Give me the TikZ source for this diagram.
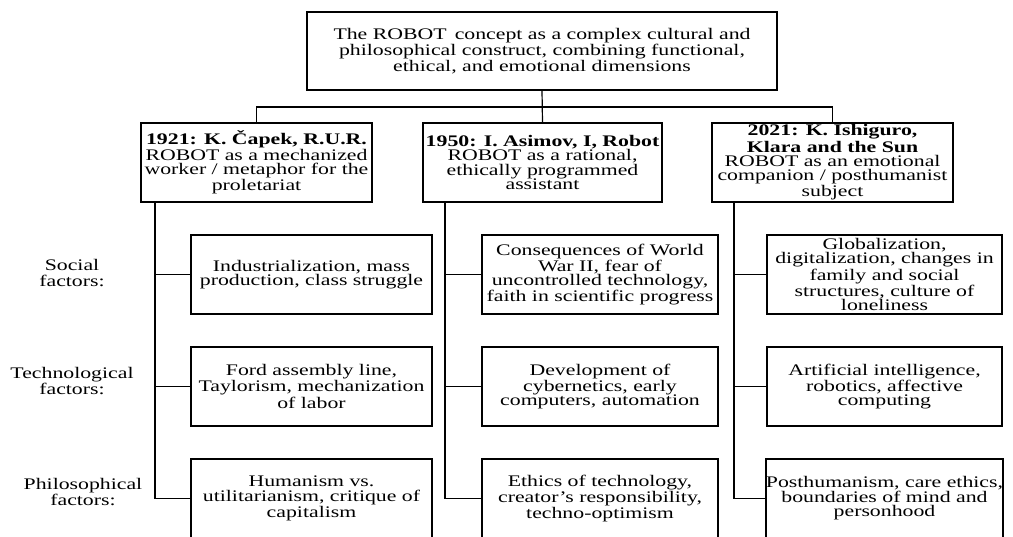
\documentclass[tikz,border=0pt]{standalone}
\usepackage{fontspec}
\setmainfont[FakeStretch=1.35]{Liberation Serif}
\begin{document}
\begin{tikzpicture}[x=0.75pt,y=-0.75pt,
  every node/.style={font=\fontsize{12.1}{10.8}\selectfont},
  box/.style={draw, line width=0.9pt, align=center, inner sep=0pt},
  topbox/.style={box, minimum width=352.5pt, minimum height=58.5pt},
  headbox/.style={box, minimum width=#1, minimum height=59.25pt},
  rowbox/.style={box, minimum width=#1, minimum height=59.25pt},
  lbl/.style={align=center, font=\fontsize{12.1}{12}\selectfont},
  conn/.style={line width=0.9pt}]
\useasboundingbox (0,0) rectangle (1013,536);
% top
\node[topbox] (top) at (542,51) {The ROBOT\, concept as a complex cultural and\\philosophical construct, combining functional,\\ethical, and emotional dimensions};
% headings
\node[headbox=173.25pt] (h1) at (256.5,162.5) {\textbf{1921: K. Čapek, R.U.R.}\\ROBOT as a mechanized\\worker / metaphor for the\\proletariat};
\node[headbox=179.25pt] (h2) at (542.5,162.5) {\textbf{1950: I. Asimov, I, Robot}\\ROBOT as a rational,\\ethically programmed\\assistant};
\node[headbox=180.75pt] (h3) at (832.5,162.5) {\textbf{2021: K. Ishiguro,}\\\textbf{Klara and the Sun}\\ROBOT as an emotional\\companion / posthumanist\\subject};
% rows col1
\node[rowbox=180.75pt] (a1) at (311.5,274.5) {Industrialization, mass\\production, class struggle};
\node[rowbox=180.75pt] (a2) at (311.5,386.5) {Ford assembly line,\\Taylorism, mechanization\\of labor};
\node[rowbox=180.75pt] (a3) at (311.5,498.5) {Humanism vs.\\utilitarianism, critique of\\capitalism};
% col2
\node[rowbox=177pt] (b1) at (600,274.5) {Consequences of World\\War II, fear of\\uncontrolled technology,\\faith in scientific progress};
\node[rowbox=177pt] (b2) at (600,386.5) {Development of\\cybernetics, early\\computers, automation};
\node[rowbox=177pt] (b3) at (600,498.5) {Ethics of technology,\\creator’s responsibility,\\techno-optimism};
% col3
\node[rowbox=176.25pt] (c1) at (884.5,274.5) {Globalization,\\digitalization, changes in\\family and social\\structures, culture of\\loneliness};
\node[rowbox=176.25pt] (c2) at (884.5,386.5) {Artificial intelligence,\\robotics, affective\\computing};
\node[rowbox=176.25pt] (c3) at (884.5,498.5) {Posthumanism, care ethics,\\boundaries of mind and\\personhood};
% labels
\node[lbl] (l1) at (72,273) {Social\\factors:};
\node[lbl] (l2) at (72,381) {Technological\\factors:};
\node[lbl] (l3) at (83,492) {Philosophical\\factors:};
% bus
\coordinate (bus) at (542,107);
\draw[conn] (top.south) -- (h2.north);
\draw[conn] (bus) -| (h1.north);
\draw[conn] (bus) -| (h3.north);
% spines
\coordinate (s1) at (155,202);
\coordinate (s2) at (445,202);
\coordinate (s3) at (734,202);
\draw[conn] (s1) |- (a3.west);
\draw[conn] (s1 |- a1.west) -- (a1.west);
\draw[conn] (s1 |- a2.west) -- (a2.west);
\draw[conn] (s2) |- (b3.west);
\draw[conn] (s2 |- b1.west) -- (b1.west);
\draw[conn] (s2 |- b2.west) -- (b2.west);
\draw[conn] (s3) |- (c3.west);
\draw[conn] (s3 |- c1.west) -- (c1.west);
\draw[conn] (s3 |- c2.west) -- (c2.west);
\end{tikzpicture}
\end{document}
